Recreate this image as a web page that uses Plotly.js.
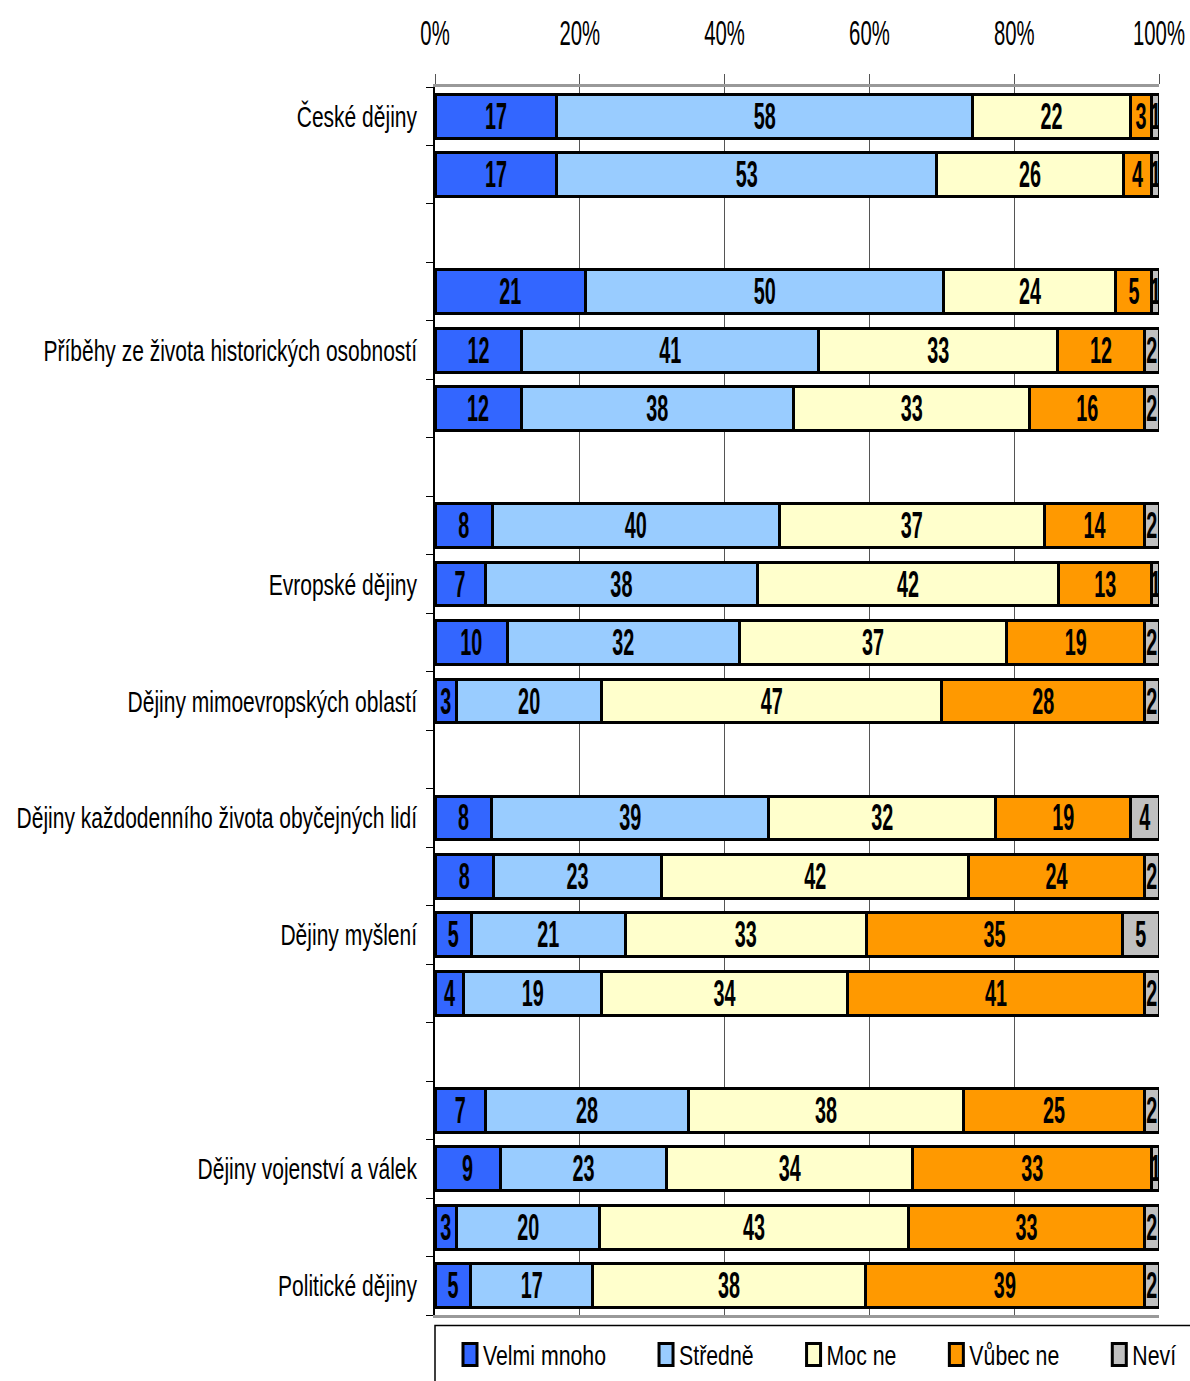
<!DOCTYPE html>
<html>
<head>
<meta charset="utf-8">
<script src="https://cdn.plot.ly/plotly-3.0.1.min.js"></script>
<style>html,body{margin:0;padding:0;background:#fff}</style>
</head>
<body>
<div id="chart" style="width:1190px;height:1381px"></div>
<script>
// Row labels (21 rows; empty rows are spacers)
const rowLabels = [
  "České dějiny", "", "", "", "Příběhy ze života historických osobností", "", "", "",
  "Evropské dějiny", "", "Dějiny mimoevropských oblastí", "",
  "Dějiny každodenního života obyčejných lidí", "", "Dějiny myšlení", "", "", "",
  "Dějiny vojenství a válek", "", "Politické dějiny"
];
const seriesNames = ["Velmi mnoho", "Středně", "Moc ne", "Vůbec ne", "Neví"];
const velmiMnoho = [17, 17, null, 21, 12, 12, null, 8, 7, 10, 3, null, 8, 8, 5, 4, null, 7, 9, 3, 5];
const stredne    = [58, 53, null, 50, 41, 38, null, 40, 38, 32, 20, null, 39, 23, 21, 19, null, 28, 23, 20, 17];
const mocNe      = [22, 26, null, 24, 33, 33, null, 37, 42, 37, 47, null, 32, 42, 33, 34, null, 38, 34, 43, 38];
const vubecNe    = [3, 4, null, 5, 12, 16, null, 14, 13, 19, 28, null, 19, 24, 35, 41, null, 25, 33, 33, 39];
const nevi       = [1, 1, null, 1, 2, 2, null, 2, 1, 2, 2, null, 4, 2, 5, 2, null, 2, 1, 2, 2];
const xTicks = [0, 20, 40, 60, 80, 100];

const colors = ["#3366FF", "#99CCFF", "#FFFFCC", "#FF9900", "#C0C0C0"];
const values = [velmiMnoho, stredne, mocNe, vubecNe, nevi];
const rows = rowLabels.map((_, i) => i);
const FONT = "'Liberation Sans', Arial, sans-serif";

const traces = values.map((v, k) => ({
  type: "bar",
  orientation: "h",
  name: seriesNames[k],
  y: rows,
  x: v,
  text: v.map(d => d == null ? "" : String(d)),
  textposition: "inside",
  insidetextanchor: "middle",
  textangle: 0,
  textfont: {family: FONT, size: 36, color: "#000", weight: "bold"},
  marker: {color: colors[k], line: {color: "#000", width: 3}},
  hoverinfo: "none"
}));

const layout = {
  width: 1190, height: 1381,
  margin: {l: 435, r: 31, t: 87, b: 66, autoexpand: false},
  barmode: "stack",
  barnorm: "percent",
  bargap: 0.25,
  paper_bgcolor: "#fff",
  plot_bgcolor: "#fff",
  font: {family: FONT, color: "#000"},
  uniformtext: {mode: "show", minsize: 36},
  xaxis: {
    side: "top",
    range: [0, 100],
    tickmode: "array",
    tickvals: xTicks,
    ticktext: xTicks.map(t => t + "%"),
    tickfont: {family: FONT, size: 35, color: "#000"},
    ticklabeloverflow: "allow",
    ticks: "outside", ticklen: 10, tickcolor: "#555",
    showgrid: true, gridcolor: "#555", gridwidth: 1,
    zeroline: false,
    showline: true, linecolor: "#999", linewidth: 3, mirror: true,
    ticklabelstandoff: 15,
    fixedrange: true
  },
  yaxis: {
    range: [20.5, -0.5],
    tickmode: "array",
    tickvals: rows,
    ticktext: rowLabels,
    tickfont: {family: FONT, size: 30, color: "#000"},
    ticklabeloverflow: "allow",
    ticks: "",
    ticklabelstandoff: 10,
    showgrid: false,
    zeroline: false,
    showline: true, linecolor: "#000", linewidth: 2,
    minor: {
      tickmode: "array",
      tickvals: rows.concat([rows.length]).map(i => i - 0.5),
      ticks: "outside", ticklen: 7, tickcolor: "#000", tickwidth: 1,
      showgrid: false
    },
    fixedrange: true
  },
  showlegend: true,
  legend: {
    orientation: "h",
    x: 0.02, xanchor: "left",
    y: -0.012, yanchor: "top",
    font: {family: FONT, size: 28, color: "#000"},
    bgcolor: "rgba(0,0,0,0)",
    borderwidth: 0,
    traceorder: "normal",
    itemclick: false, itemdoubleclick: false
  },
  shapes: [{
    type: "rect", xref: "paper", yref: "paper",
    x0: 0, x1: 1.2, y0: -0.1, y1: -0.0085,
    line: {color: "#000", width: 1.5}, fillcolor: "rgba(0,0,0,0)"
  }]
};

// Narrow the glyphs (the reference uses a condensed face that is not installed)
function squeeze(root, selector, factor) {
  root.querySelectorAll(selector).forEach(t => {
    const len = t.getComputedTextLength();
    if (len > 0) {
      t.setAttribute("textLength", (len * factor).toFixed(2));
      t.setAttribute("lengthAdjust", "spacingAndGlyphs");
    }
  });
}

function parseTranslate(s) {
  const m = /translate\(\s*([-\d.e]+)[ ,]+([-\d.e]+)/.exec(s || "");
  return m ? [parseFloat(m[1]), parseFloat(m[2])] : [0, 0];
}

const gd = document.getElementById("chart");
Plotly.newPlot(gd, traces, layout, {displayModeBar: false, staticPlot: true}).then(() => {
  squeeze(gd, ".ytick text", 0.70);
  squeeze(gd, ".xtick text", 0.58);
  squeeze(gd, "text.bartext", 0.55);
  squeeze(gd, "text.legendtext", 0.76);

  // lay the legend entries out on one row, spaced for the narrowed text
  gd.querySelectorAll(".legend [clip-path]").forEach(el => el.removeAttribute("clip-path"));
  const groups = Array.from(gd.querySelectorAll(".legend .traces"));
  if (groups.length) {
    const start = parseTranslate(groups[0].getAttribute("transform"));
    let x = start[0];
    const positions = [];
    groups.forEach(g => {
      const txt = g.querySelector("text.legendtext");
      const sym = g.querySelector(".legendpoints path");
      let symC = 20;
      if (sym) {
        const st = parseTranslate(sym.getAttribute("transform"));
        symC = st[0] || 20;
        sym.setAttribute("d", "M7,11H-7V-11H7Z");
        sym.style.strokeWidth = "3px";
      }
      const w = parseFloat(txt.getAttribute("textLength")) || txt.getComputedTextLength();
      txt.setAttribute("x", symC + 13);
      positions.push(x);
      x = x + 13 + w + 60;
    });
    groups.forEach((g, i) => {
      g.setAttribute("transform", "translate(" + positions[i] + "," + start[1] + ")");
    });
    const first = groups[0].querySelector(".legendpoints path") || groups[0];
    const r = first.getBoundingClientRect();
    const delta = 470 - (r.left + r.width / 2);
    groups.forEach((g, i) => {
      g.setAttribute("transform", "translate(" + (positions[i] + delta) + "," + start[1] + ")");
    });
  }
});
</script>
</body>
</html>
